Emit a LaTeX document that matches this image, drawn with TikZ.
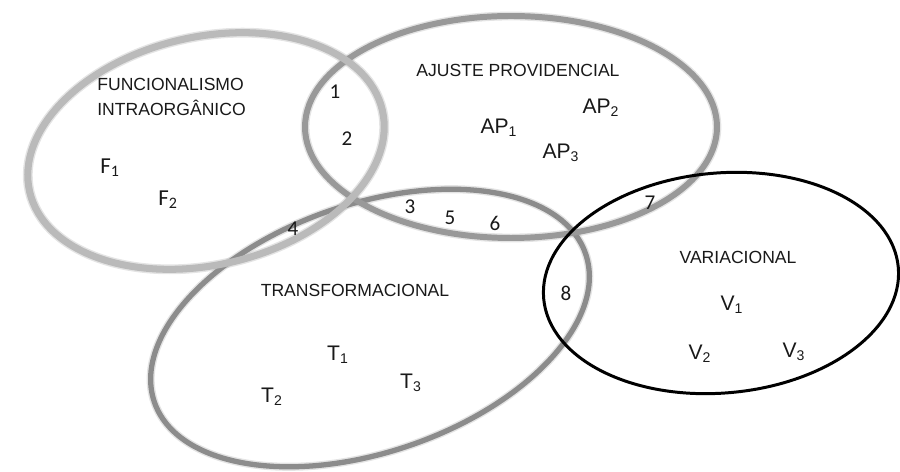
\documentclass[tikz,border=0pt]{standalone}
\usepackage{fontspec}
\setmainfont{Liberation Sans}
\newfontfamily\numfont{Carlito}
\usetikzlibrary{positioning}

\tikzset{
    ring/.style={line width=#1},
    halo/.style={line width=#1, black!30, opacity=0.35},
    heading/.style={font=\fontsize{10}{14.7}\selectfont, text=black!90, align=left, inner sep=0pt},
    member/.style={font=\fontsize{12}{14}\selectfont, text=black!90, inner sep=0pt},
    region/.style={font=\numfont\fontsize{12}{14}\selectfont, text=black!90, inner sep=0pt}
}

\begin{document}
\begin{tikzpicture}[x=0.02cm, y=-0.02cm]
    \useasboundingbox (0,0) rectangle (900,472);

    % Centres of the four sets
    \coordinate (Fc) at (206,151);
    \coordinate (APc) at (511,127);
    \coordinate (Tc) at (370,328);
    \coordinate (Vc) at (721,283);

    % Soft edges of the grey sets
    \draw[halo=4.6pt, rotate around={19:(Tc)}] (Tc) ellipse [x radius=228, y radius=124];
    \draw[halo=5pt] (APc) ellipse [x radius=206, y radius=111];
    \draw[halo=5.6pt, rotate around={13:(Fc)}] (Fc) ellipse [x radius=181, y radius=114];

    % Sets
    \draw[ring=3pt, black!45, rotate around={19:(Tc)}] (Tc) ellipse [x radius=228, y radius=124];
    \draw[ring=3.4pt, black!40] (APc) ellipse [x radius=206, y radius=111];
    \draw[ring=4pt, black!27, rotate around={13:(Fc)}] (Fc) ellipse [x radius=181, y radius=114];
    \draw[ring=1.7pt, black, rotate around={5:(Vc)}] (Vc) ellipse [x radius=178, y radius=110];

    % Headings
    \node[heading, anchor=west] (func) at (97,97) {FUNCIONALISMO\\INTRAORGÂNICO};
    \node[heading] (ajuste) at (518,70) {AJUSTE PROVIDENCIAL};
    \node[heading] (transf) at (355,290) {TRANSFORMACIONAL};
    \node[heading] (var) at (738,257) {VARIACIONAL};

    % Members
    \node[region, font=\numfont\fontsize{13}{15}\selectfont] (f1) at (110,168) {F\textsubscript{1}};
    \node[region, font=\numfont\fontsize{13}{15}\selectfont] (f2) at (168,200) {F\textsubscript{2}};
    \node[member] (ap1) at (499,128) {AP\textsubscript{1}};
    \node[member] (ap2) at (601,108) {AP\textsubscript{2}};
    \node[member] (ap3) at (561,153) {AP\textsubscript{3}};
    \node[member] (t1) at (338,355) {T\textsubscript{1}};
    \node[member] (t2) at (272,397) {T\textsubscript{2}};
    \node[member] (t3) at (411,383) {T\textsubscript{3}};
    \node[member] (v1) at (732,305) {V\textsubscript{1}};
    \node[member] (v2) at (700,354) {V\textsubscript{2}};
    \node[member] (v3) at (794,352) {V\textsubscript{3}};

    % Overlap regions
    \node[region] (r1) at (335,92) {1};
    \node[region] (r2) at (347,139) {2};
    \node[region] (r3) at (410,207) {3};
    \node[region] (r4) at (293,229) {4};
    \node[region] (r5) at (450,218) {5};
    \node[region] (r6) at (495,223) {6};
    \node[region] (r7) at (650,203) {7};
    \node[region] (r8) at (566,293) {8};
\end{tikzpicture}
\end{document}
